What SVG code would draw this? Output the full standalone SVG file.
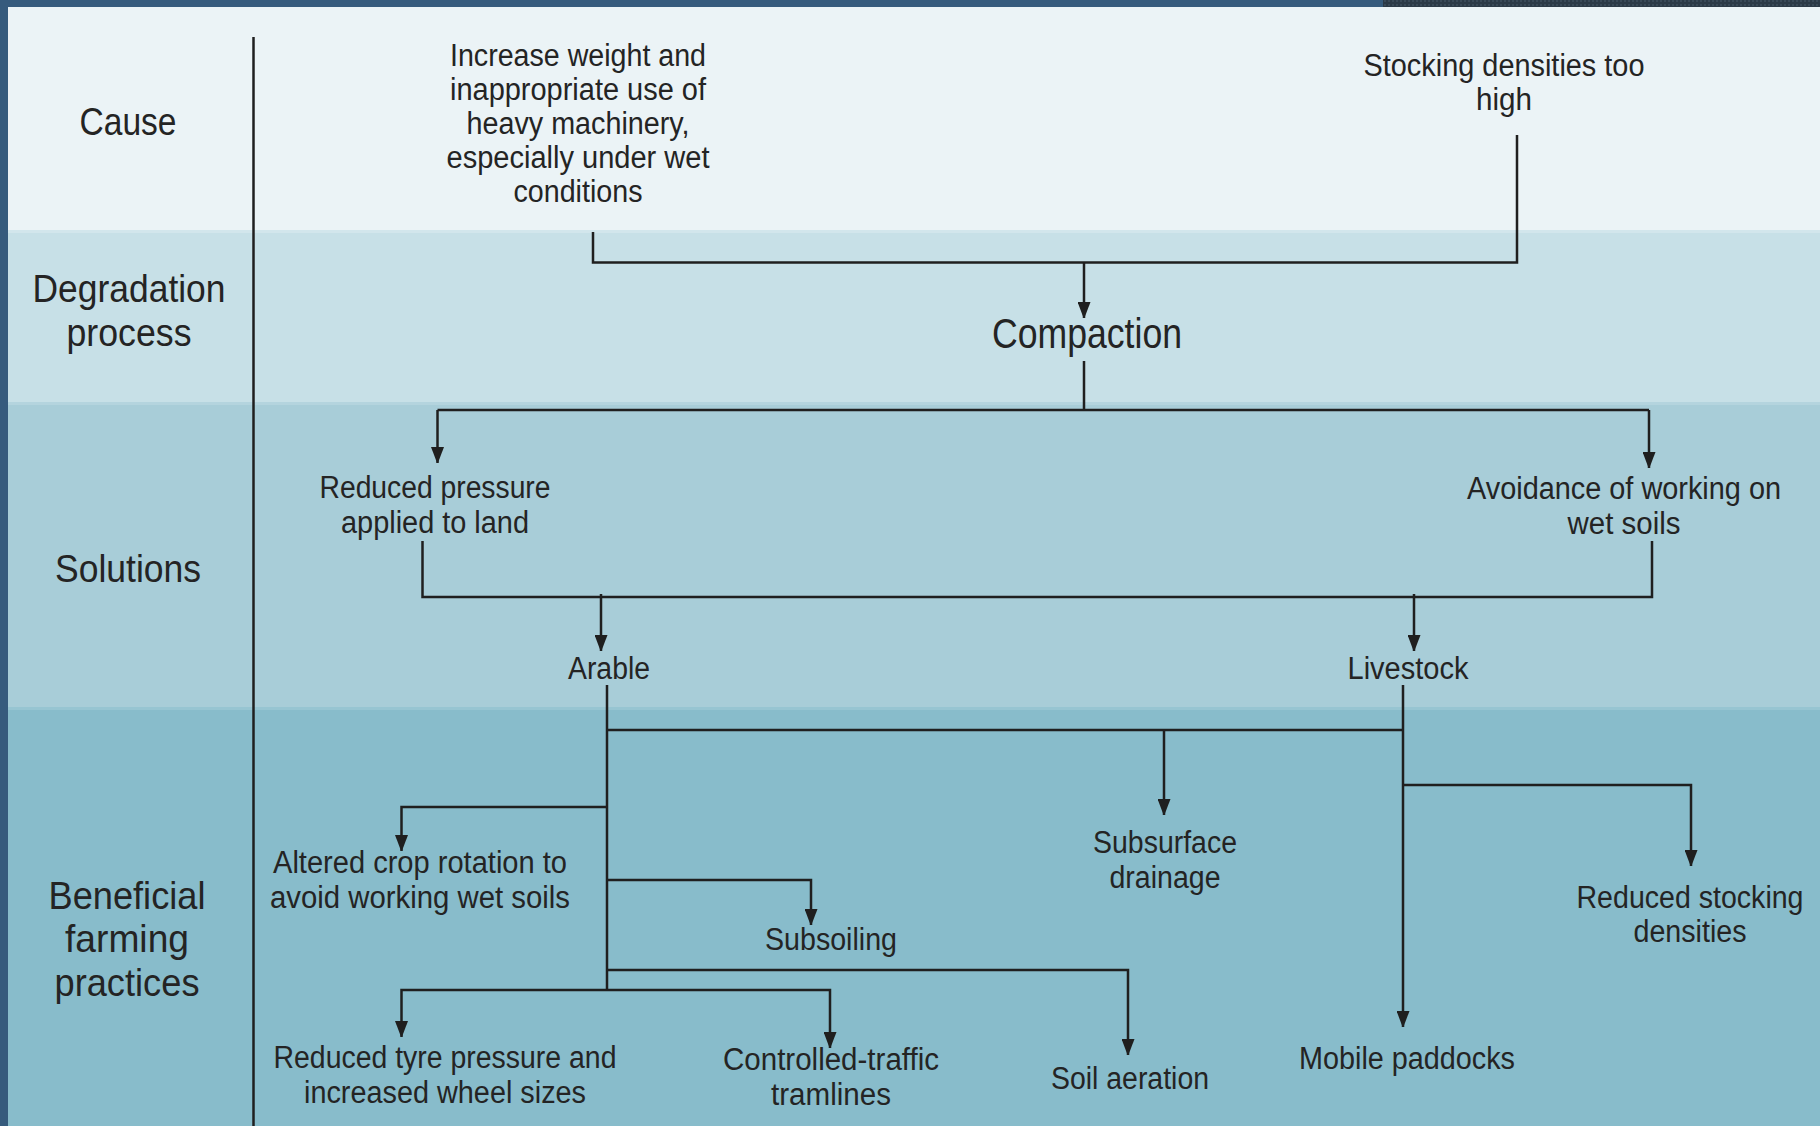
<svg xmlns="http://www.w3.org/2000/svg" width="1820" height="1126" viewBox="0 0 1820 1126">
<defs>
<marker id="arr" markerWidth="16" markerHeight="13" refX="16" refY="6.5" orient="auto" markerUnits="userSpaceOnUse"><path d="M0,0 L17,6.5 L0,13 z" fill="#1f1f1f"/></marker>
<pattern id="tex" width="4" height="4" patternUnits="userSpaceOnUse"><rect width="4" height="4" fill="#2c3a47"/><rect width="2" height="2" fill="#3a4a58"/></pattern>
</defs>
<style>
.t{font-family:"Liberation Sans",Arial,sans-serif;font-size:31px;fill:#242424;text-anchor:middle}
.lab{font-family:"Liberation Sans",Arial,sans-serif;font-size:39px;fill:#242424;text-anchor:middle}
.big{font-family:"Liberation Sans",Arial,sans-serif;font-size:42px;fill:#242424;text-anchor:middle}
.c{fill:none;stroke:#1f1f1f;stroke-width:2.5}
.a{fill:none;stroke:#1f1f1f;stroke-width:2.5;marker-end:url(#arr)}
</style>
<g id="background">
<rect x="0" y="0" width="1820" height="1126" fill="#365b7d"/>
<rect x="1383" y="0" width="437" height="7" fill="url(#tex)"/>
<rect x="8" y="7" width="1812" height="223" fill="#ebf3f6"/>
<rect x="8" y="230" width="1812" height="172" fill="#c7e0e7"/>
<rect x="8" y="230" width="1812" height="3" fill="#d2e6ec"/>
<rect x="8" y="402" width="1812" height="305" fill="#a8cdd8"/>
<rect x="8" y="402" width="1812" height="3" fill="#b4d4de"/>
<rect x="8" y="707" width="1812" height="419" fill="#88bccb"/>
<rect x="8" y="707" width="1812" height="3" fill="#97c5d2"/>
<line x1="253.5" y1="37" x2="253.5" y2="1126" stroke="#1f1f1f" stroke-width="2.5"/>
</g>
<g id="row-labels">
<text class="lab" x="128" y="135" textLength="97" lengthAdjust="spacingAndGlyphs">Cause</text>
<text class="lab" x="129" y="302" textLength="193" lengthAdjust="spacingAndGlyphs">Degradation</text>
<text class="lab" x="129" y="346" textLength="125" lengthAdjust="spacingAndGlyphs">process</text>
<text class="lab" x="128" y="582" textLength="146" lengthAdjust="spacingAndGlyphs">Solutions</text>
<text class="lab" x="127" y="909" textLength="157" lengthAdjust="spacingAndGlyphs">Beneficial</text>
<text class="lab" x="127" y="952" textLength="124" lengthAdjust="spacingAndGlyphs">farming</text>
<text class="lab" x="127" y="996" textLength="145" lengthAdjust="spacingAndGlyphs">practices</text>
</g>
<g id="connectors">
<path class="c" d="M593,232 V262.5 H1517 V135"/>
<path class="a" d="M1084,262.5 V318"/>
<path class="c" d="M1084,361 V410 M437.5,410 H1649"/>
<path class="a" d="M437.5,410 V463"/>
<path class="a" d="M1649,410 V468"/>
<path class="c" d="M422.5,541 V597 H1652 V541"/>
<path class="a" d="M601,594 V651"/>
<path class="a" d="M1414,594 V651"/>
<path class="c" d="M607,685 V990 M607,730 H1403"/>
<path class="a" d="M1403,685 V1027"/>
<path class="a" d="M1164,730 V815"/>
<path class="a" d="M1403,785 H1691 V866"/>
<path class="a" d="M607,807 H401.5 V851"/>
<path class="a" d="M607,880 H811 V925"/>
<path class="a" d="M607,970 H1128 V1055"/>
<path class="a" d="M607,990 H401.5 V1037"/>
<path class="a" d="M607,990 H830 V1048"/>
</g>
<g id="node-increase-weight">
<text class="t" x="578" y="66" textLength="256" lengthAdjust="spacingAndGlyphs">Increase weight and</text>
<text class="t" x="578" y="99.5" textLength="256" lengthAdjust="spacingAndGlyphs">inappropriate use of</text>
<text class="t" x="578" y="133.5" textLength="223" lengthAdjust="spacingAndGlyphs">heavy machinery,</text>
<text class="t" x="578" y="167.5" textLength="263" lengthAdjust="spacingAndGlyphs">especially under wet</text>
<text class="t" x="578" y="201.5" textLength="129" lengthAdjust="spacingAndGlyphs">conditions</text>
</g>
<g id="node-stocking-densities">
<text class="t" x="1504" y="76" textLength="281" lengthAdjust="spacingAndGlyphs">Stocking densities too</text>
<text class="t" x="1504" y="109.5" textLength="56" lengthAdjust="spacingAndGlyphs">high</text>
</g>
<g id="node-compaction">
<text class="big" x="1087" y="348" textLength="190" lengthAdjust="spacingAndGlyphs">Compaction</text>
</g>
<g id="node-reduced-pressure">
<text class="t" x="435" y="497.5" textLength="231" lengthAdjust="spacingAndGlyphs">Reduced pressure</text>
<text class="t" x="435" y="532.5" textLength="188" lengthAdjust="spacingAndGlyphs">applied to land</text>
</g>
<g id="node-avoidance">
<text class="t" x="1624" y="498.5" textLength="314" lengthAdjust="spacingAndGlyphs">Avoidance of working on</text>
<text class="t" x="1624" y="533.5" textLength="113" lengthAdjust="spacingAndGlyphs">wet soils</text>
</g>
<g id="node-arable">
<text class="t" x="609" y="678.5" textLength="82" lengthAdjust="spacingAndGlyphs">Arable</text>
</g>
<g id="node-livestock">
<text class="t" x="1408" y="678.5" textLength="121" lengthAdjust="spacingAndGlyphs">Livestock</text>
</g>
<g id="node-altered-crop">
<text class="t" x="420" y="872.5" textLength="294" lengthAdjust="spacingAndGlyphs">Altered crop rotation to</text>
<text class="t" x="420" y="907.5" textLength="300" lengthAdjust="spacingAndGlyphs">avoid working wet soils</text>
</g>
<g id="node-subsoiling">
<text class="t" x="831" y="949.5" textLength="132" lengthAdjust="spacingAndGlyphs">Subsoiling</text>
</g>
<g id="node-subsurface">
<text class="t" x="1165" y="852.5" textLength="144" lengthAdjust="spacingAndGlyphs">Subsurface</text>
<text class="t" x="1165" y="887.5" textLength="111" lengthAdjust="spacingAndGlyphs">drainage</text>
</g>
<g id="node-reduced-stocking">
<text class="t" x="1690" y="907.5" textLength="227" lengthAdjust="spacingAndGlyphs">Reduced stocking</text>
<text class="t" x="1690" y="941.5" textLength="113" lengthAdjust="spacingAndGlyphs">densities</text>
</g>
<g id="node-reduced-tyre">
<text class="t" x="445" y="1067.5" textLength="343" lengthAdjust="spacingAndGlyphs">Reduced tyre pressure and</text>
<text class="t" x="445" y="1102.5" textLength="282" lengthAdjust="spacingAndGlyphs">increased wheel sizes</text>
</g>
<g id="node-controlled-traffic">
<text class="t" x="831" y="1069.5" textLength="216" lengthAdjust="spacingAndGlyphs">Controlled-traffic</text>
<text class="t" x="831" y="1104.5" textLength="120" lengthAdjust="spacingAndGlyphs">tramlines</text>
</g>
<g id="node-soil-aeration">
<text class="t" x="1130" y="1088.5" textLength="158" lengthAdjust="spacingAndGlyphs">Soil aeration</text>
</g>
<g id="node-mobile-paddocks">
<text class="t" x="1407" y="1068.5" textLength="216" lengthAdjust="spacingAndGlyphs">Mobile paddocks</text>
</g>
</svg>
